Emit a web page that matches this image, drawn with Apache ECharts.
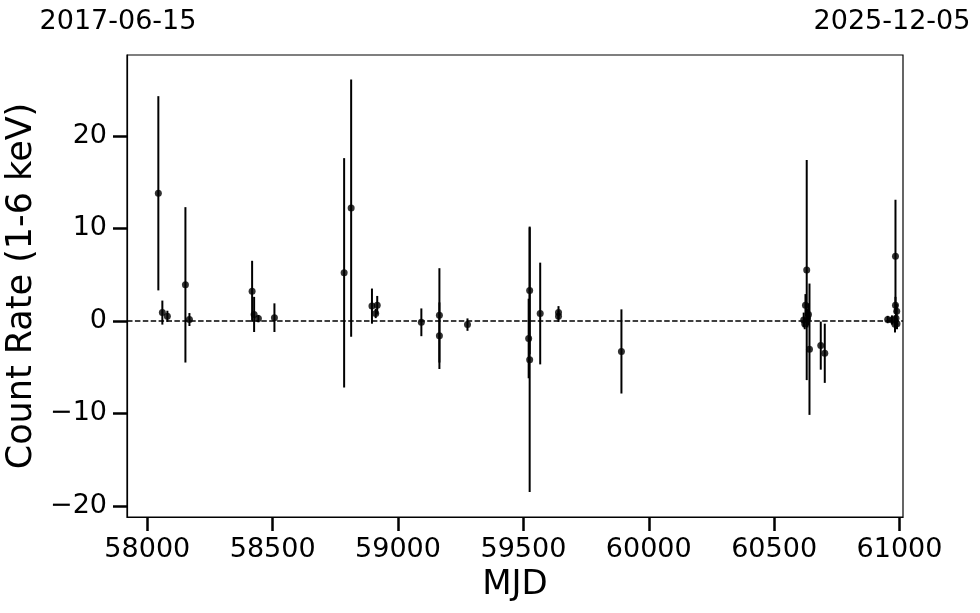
<!DOCTYPE html>
<html>
<head>
<meta charset="utf-8">
<script src="https://cdn.jsdelivr.net/npm/echarts@6/dist/echarts.min.js"></script>
<style>
  html, body { margin: 0; padding: 0; background: #fff; }
  #lc { width: 980px; height: 613px; }
</style>
</head>
<body>
<div id="lc"></div>
<script>
// light curve points (MJD, count rate, 1-sigma error)
var mjd = [58044, 58060, 58080, 58152, 58168, 58418, 58426, 58443, 58507,
  58785, 58813, 58896, 58917, 58911, 59093, 59165, 59165, 59277,
  59525, 59521, 59525, 59567, 59640, 59640, 59891,
  60630, 60625, 60618, 60633, 60637, 60641, 60622, 60686, 60702,
  60984, 60984, 60989, 60953, 60970, 60982, 60990, 60986];
var rate = [13.8, 0.9, 0.5, 3.9, 0.15, 3.2, 0.7, 0.25, 0.35,
  5.2, 12.2, 1.6, 1.7, 0.8, -0.15, 0.6, -1.6, -0.4,
  3.3, -1.9, -4.2, 0.8, 0.9, 0.5, -3.3,
  5.5, 1.7, 0.1, 0.3, 0.7, -3.06, -0.3, -2.67, -3.5,
  7.0, 1.7, 1.05, 0.15, 0.1, -0.35, -0.3, 0.3];
var rateErr = [10.5, 1.3, 0.6, 8.4, 0.7, 3.3, 1.9, 0.4, 1.55,
  12.4, 13.9, 1.9, 1.0, 0.5, 1.5, 5.1, 3.6, 0.67,
  6.9, 4.3, 14.3, 5.5, 0.7, 0.6, 4.55,
  11.9, 1.2, 0.8, 1.0, 1.2, 7.1, 0.6, 2.6, 3.2,
  6.1, 0.9, 0.8, 0.4, 0.5, 0.9, 0.6, 0.6];

var xTicks = [58000, 58500, 59000, 59500, 60000, 60500, 61000];
var yTicks = [-20, -10, 0, 10, 20];
var topDates = ["2017-06-15", "2025-12-05"];

var chart = echarts.init(document.getElementById("lc"));

var pts = mjd.map(function (m, i) { return [m, rate[i]]; });
var bars = mjd.map(function (m, i) { return [m, rate[i] - rateErr[i], rate[i] + rateErr[i]]; });

var font = "DejaVu Sans";

var option = {
  animation: false,
  backgroundColor: "#fff",
  textStyle: { fontFamily: font },
  grid: {
    left: 127,
    right: 77,
    top: 55,
    bottom: 96,
    containLabel: false,
    outerBoundsMode: "none",
    show: true,
    borderColor: "#000",
    borderWidth: 1.2
  },
  graphic: [
    {
      type: "text", x: 118, y: 22,
      style: { text: topDates[0], font: "27px DejaVu Sans", fill: "#000", textAlign: "center", textVerticalAlign: "middle" }
    },
    {
      type: "text", x: 892, y: 22,
      style: { text: topDates[1], font: "27px DejaVu Sans", fill: "#000", textAlign: "center", textVerticalAlign: "middle" }
    }
  ],
  xAxis: {
    type: "value",
    min: 57919,
    max: 61014,
    name: "MJD",
    nameLocation: "middle",
    nameGap: 49,
    nameTextStyle: { fontSize: 34, color: "#000", fontFamily: font },
    splitLine: { show: false },
    axisLine: { show: true, onZero: false, lineStyle: { color: "#000", width: 1.2 } },
    axisTick: {
      show: true,
      customValues: xTicks,
      length: 14,
      lineStyle: { color: "#000", width: 2.5 }
    },
    axisLabel: {
      customValues: xTicks,
      fontSize: 27,
      color: "#000",
      margin: 19,
      fontFamily: font,
      formatter: function (v) { return String(v); }
    }
  },
  yAxis: {
    type: "value",
    min: -21.2,
    max: 28.75,
    name: "Count Rate (1-6 keV)",
    nameLocation: "middle",
    nameGap: 84,
    nameTextStyle: { fontSize: 35, color: "#000", fontFamily: font },
    splitLine: { show: false },
    axisLine: { show: true, onZero: false, lineStyle: { color: "#000", width: 1.2 } },
    axisTick: {
      show: true,
      customValues: yTicks,
      length: 14,
      lineStyle: { color: "#000", width: 2.5 }
    },
    axisLabel: {
      customValues: yTicks,
      fontSize: 27,
      color: "#000",
      margin: 20,
      fontFamily: font,
      formatter: function (v) { return v < 0 ? "\u2212" + Math.abs(v) : String(v); }
    }
  },
  series: [
    {
      // error bars
      type: "custom",
      data: bars,
      encode: { x: 0, y: [1, 2] },
      renderItem: function (params, api) {
        var lo = api.coord([api.value(0), api.value(1)]);
        var hi = api.coord([api.value(0), api.value(2)]);
        return {
          type: "line",
          shape: { x1: lo[0], y1: lo[1], x2: hi[0], y2: hi[1] },
          style: { stroke: "#000", lineWidth: 2 }
        };
      },
      z: 2
    },
    {
      type: "scatter",
      data: pts,
      symbolSize: 7,
      itemStyle: { color: "#000" },
      z: 3,
      markLine: {
        silent: true,
        symbol: ["none", "none"],
        label: { show: false },
        lineStyle: { type: [5.5, 2.4], color: "#000", width: 1.5 },
        data: [{ yAxis: 0 }]
      }
    }
  ]
};

chart.setOption(option);
</script>
</body>
</html>
